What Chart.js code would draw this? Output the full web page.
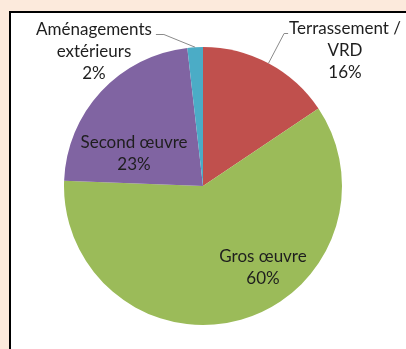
<!DOCTYPE html>
<html>
<head>
<meta charset="utf-8">
<script src="https://cdn.jsdelivr.net/npm/chart.js@4/dist/chart.umd.min.js"></script>
<style>
  html, body { margin:0; padding:0; width:406px; height:349px; overflow:hidden; background:#FCEADC; }
  #frame { position:absolute; left:9px; top:11px; width:420px; height:360px; background:#fff;
           border-left:2px solid #000; border-top:2px solid #000; }
  #wrap { position:absolute; left:0; top:0; width:406px; height:349px; }
</style>
</head>
<body>
<div id="frame"></div>
<div id="wrap"><canvas id="c" width="406" height="349"></canvas></div>
<script>
const categories = ["Terrassement / VRD", "Gros œuvre", "Second œuvre", "Aménagements extérieurs"];
const values = [15.6, 60.0, 22.6, 1.8];
const percentLabels = ["16%", "60%", "23%", "2%"];
const labelLines = [["Terrassement /", "VRD"], ["Gros œuvre"], ["Second œuvre"], ["Aménagements", "extérieurs"]];
const colors = ["#C0504D", "#9BBB59", "#8064A2", "#4BACC6"];

// label placement (layout only): block centre offset from pie centre, in px
const labelPlacement = [
  { dx: 142, dy: -135, leader: { side: "left" } },
  { dx: 60, dy: 82 },
  { dx: -69, dy: -32 },
  { dx: -109, dy: -134, leader: { side: "right" } }
];

const FONT = '17px Lato';
const LINE_H = 22;

const labelPlugin = {
  id: 'pieLabels',
  afterDatasetsDraw(chart) {
    const ctx = chart.ctx;
    const meta = chart.getDatasetMeta(0);
    ctx.save();
    ctx.font = FONT;
    ctx.textAlign = 'center';
    ctx.textBaseline = 'middle';
    meta.data.forEach((arc, i) => {
      const p = arc.getProps(['x', 'y', 'startAngle', 'endAngle', 'outerRadius']);
      const lines = labelLines[i].concat([percentLabels[i]]);
      const pl = labelPlacement[i];
      const cx = p.x + pl.dx;
      const cy = p.y + pl.dy;
      const top = cy - (lines.length - 1) * LINE_H / 2;
      ctx.fillStyle = '#1e1e1e';
      lines.forEach((t, k) => ctx.fillText(t, cx, top + k * LINE_H));
      if (pl.leader) {
        const mid = (p.startAngle + p.endAngle) / 2;
        const ex = p.x + Math.cos(mid) * p.outerRadius;
        const ey = p.y + Math.sin(mid) * p.outerRadius;
        const w = ctx.measureText(lines[0]).width;
        const ly = Math.round(top + 4) + 0.5;
        ctx.strokeStyle = '#8a8a8a';
        ctx.lineWidth = 1;
        ctx.beginPath();
        if (pl.leader.side === 'right') {
          const sx = cx + w / 2 + 4;
          ctx.moveTo(sx, ly); ctx.lineTo(sx + 8, ly); ctx.lineTo(ex, ey);
        } else {
          const sx = cx - w / 2 - 1;
          ctx.moveTo(sx, ly); ctx.lineTo(sx - 4, ly); ctx.lineTo(ex, ey);
        }
        ctx.stroke();
      }
    });
    ctx.restore();
  }
};

new Chart(document.getElementById('c'), {
  type: 'pie',
  data: {
    labels: categories,
    datasets: [{ data: values, backgroundColor: colors, borderWidth: 0 }]
  },
  options: {
    responsive: false,
    animation: false,
    layout: { padding: { top: 47, bottom: 24, left: 0, right: 0 } },
    plugins: { legend: { display: false }, tooltip: { enabled: false } }
  },
  plugins: [labelPlugin]
});
</script>
</body>
</html>
